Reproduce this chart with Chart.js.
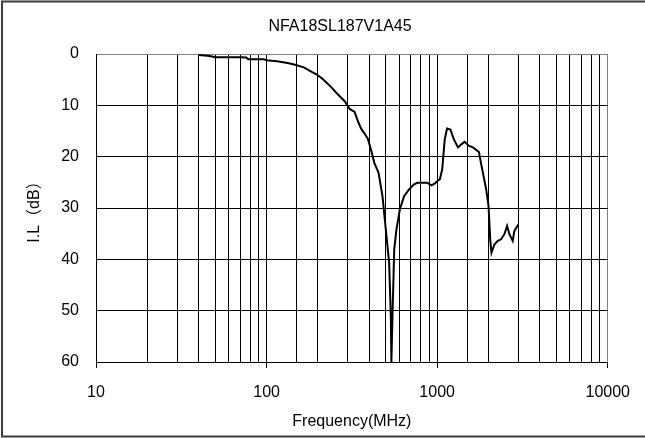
<!DOCTYPE html>
<html>
<head>
<meta charset="utf-8">
<script src="https://cdn.jsdelivr.net/npm/chart.js@4"></script>
<style>
    body { margin: 0; background: #fff; }
    #chart { display: block; }
</style>
</head>
<body>
<canvas id="chart" width="645" height="438"></canvas>
<script>
    // Insertion loss curve
    const chartTitle = 'NFA18SL187V1A45';
    const freqMHz = [
        40, 45, 48, 50, 60, 70, 76, 78, 85, 96,
        100, 115, 125, 135, 147, 165, 184, 197, 210, 225,
        240, 257, 287, 300, 307, 328, 345, 359, 375, 392,
        409, 428, 453, 478, 500, 523, 535, 539, 547, 560,
        577, 604, 640, 684, 732, 765, 820, 874, 927, 970,
        1000, 1037, 1070, 1108, 1143, 1196, 1251, 1325, 1386, 1449,
        1536, 1621, 1757, 1813, 1938, 2000, 2046, 2082, 2166, 2266,
        2370, 2478, 2570, 2650, 2773, 2833, 2990
    ];
    const lossDB = [
        0.2, 0.35, 0.5, 0.65, 0.65, 0.65, 0.7, 1.0, 1.0, 1.0,
        1.2, 1.4, 1.6, 1.8, 2.1, 2.6, 3.5, 4.0, 4.7, 5.6,
        6.5, 7.6, 9.2, 10.2, 10.7, 11.3, 13.3, 14.6, 15.5, 16.5,
        18.6, 21.2, 23.1, 27.7, 34.2, 40.7, 51.2, 60, 51.2, 38.1,
        34.2, 30.3, 27.7, 26.4, 25.4, 25.1, 25.1, 25.1, 25.6, 25.2,
        24.8, 24.4, 22.5, 16.6, 14.5, 14.7, 16.6, 18.2, 17.6, 17.1,
        17.9, 18.2, 19.1, 21.5, 26.4, 29.6, 36.1, 38.7, 37.1, 36.4,
        36.1, 35.1, 33.5, 35.1, 36.4, 34.5, 33.2
    ];
    const xTickLabels = [10, 100, 1000, 10000];
    const yTicks = [0, 10, 20, 30, 40, 50, 60];

    const FONT = "'Liberation Sans', Arial, 'Noto Sans CJK JP', sans-serif";

    function isDecade(v) {
        return xTickLabels.indexOf(Math.round(v)) !== -1;
    }

    // title and outer frame are drawn by hand so they sit where the original has them
    const framePlugin = {
        id: 'frame',
        afterDraw(chart) {
            const c = chart.ctx;
            c.save();
            c.fillStyle = '#000';
            c.font = '16px ' + FONT;
            c.textAlign = 'center';
            c.textBaseline = 'middle';
            c.fillText(chartTitle, 340, 27);
            c.strokeStyle = '#3c3c3c';
            c.lineWidth = 2;
            c.strokeRect(2, 1.5, 660, 435);
            c.restore();
        }
    };

    const ctx = document.getElementById('chart');
    new Chart(ctx, {
        type: 'line',
        data: {
            datasets: [{
                data: freqMHz.map((f, i) => ({ x: f, y: lossDB[i] })),
                borderColor: '#000',
                borderWidth: 2,
                pointRadius: 0,
                tension: 0,
                fill: false
            }]
        },
        options: {
            responsive: false,
            animation: false,
            layout: { padding: { left: 0, right: 35.5, top: 54, bottom: 0 } },
            plugins: {
                legend: { display: false },
                title: { display: false },
                tooltip: { enabled: false }
            },
            scales: {
                x: {
                    type: 'logarithmic',
                    min: 10,
                    max: 10000,
                    afterFit: (scale) => { scale.height = 76; },
                    grid: {
                        color: (c) => (c.tick && Math.round(c.tick.value) === 10000) ? '#808080' : '#000',
                        tickColor: (c) => (c.tick && isDecade(c.tick.value)) ? '#000' : 'rgba(0,0,0,0)',
                        tickLength: 6,
                        lineWidth: 1
                    },
                    border: { color: '#000', width: 1 },
                    ticks: {
                        autoSkip: false,
                        maxRotation: 0,
                        padding: 15,
                        color: '#000',
                        font: { family: FONT, size: 16 },
                        callback: (v) => isDecade(v) ? String(Math.round(v)) : ''
                    },
                    title: {
                        display: true,
                        text: 'Frequency(MHz)',
                        color: '#000',
                        font: { family: FONT, size: 16 },
                        padding: { top: 0, bottom: 6.7 }
                    }
                },
                y: {
                    type: 'linear',
                    reverse: true,
                    min: 0,
                    max: 60,
                    afterFit: (scale) => { scale.width = 96; },
                    afterBuildTicks: (scale) => { scale.ticks = yTicks.map(v => ({ value: v })); },
                    grid: {
                        color: (c) => (c.tick && c.tick.value === 0) ? '#808080' : '#000',
                        drawTicks: false,
                        lineWidth: 1
                    },
                    border: { color: '#000', width: 1 },
                    ticks: {
                        padding: 17,
                        color: '#000',
                        font: { family: FONT, size: 16 }
                    },
                    title: {
                        display: true,
                        text: 'I.L（dB）',
                        color: '#000',
                        font: { family: FONT, size: 16 },
                        padding: { top: 25.4, bottom: 0 }
                    }
                }
            }
        },
        plugins: [framePlugin]
    });
</script>
</body>
</html>
